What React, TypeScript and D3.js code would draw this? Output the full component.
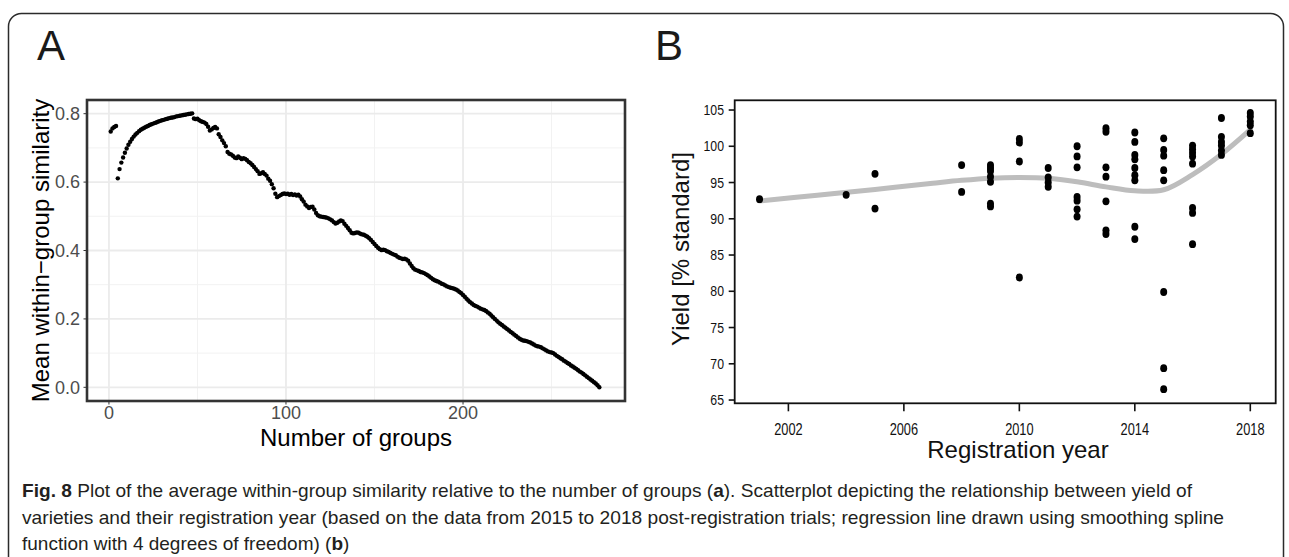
import React from 'react';
import * as d3 from 'd3';

// Panel A: mean within-group similarity for 1..277 groups
const similarity = [
  0.748, 0.757, 0.761, 0.764, 0.611, 0.638, 0.657, 0.672, 0.686, 0.698,
  0.709, 0.718, 0.726, 0.733, 0.739, 0.744, 0.749, 0.753, 0.756, 0.759,
  0.762, 0.764, 0.767, 0.769, 0.771, 0.773, 0.775, 0.777, 0.779, 0.781,
  0.782, 0.784, 0.785, 0.787, 0.788, 0.789, 0.790, 0.792, 0.793, 0.794,
  0.795, 0.796, 0.797, 0.798, 0.799, 0.800, 0.801, 0.786, 0.784, 0.785,
  0.781, 0.778, 0.776, 0.774, 0.770, 0.762, 0.751, 0.754, 0.758, 0.761,
  0.757, 0.740, 0.732, 0.722, 0.714, 0.705, 0.688, 0.683, 0.681, 0.677,
  0.672, 0.670, 0.675, 0.671, 0.667, 0.670, 0.668, 0.664, 0.659, 0.655,
  0.650, 0.644, 0.638, 0.632, 0.624, 0.626, 0.629, 0.624, 0.619, 0.610,
  0.604, 0.594, 0.582, 0.566, 0.556, 0.559, 0.562, 0.565, 0.567, 0.565,
  0.566, 0.563, 0.565, 0.562, 0.564, 0.561, 0.563, 0.558, 0.550, 0.543,
  0.534, 0.529, 0.524, 0.527, 0.528, 0.520, 0.510, 0.503, 0.500, 0.499,
  0.498, 0.497, 0.496, 0.494, 0.491, 0.488, 0.483, 0.479, 0.481, 0.485,
  0.488, 0.486, 0.478, 0.472, 0.466, 0.459, 0.452, 0.450, 0.451, 0.453,
  0.452, 0.449, 0.447, 0.446, 0.443, 0.440, 0.436, 0.431, 0.425, 0.419,
  0.413, 0.408, 0.404, 0.401, 0.402, 0.401, 0.398, 0.396, 0.393, 0.390,
  0.388, 0.386, 0.382, 0.379, 0.377, 0.375, 0.376, 0.374, 0.370, 0.362,
  0.355, 0.348, 0.344, 0.342, 0.340, 0.337, 0.336, 0.334, 0.331, 0.328,
  0.324, 0.320, 0.316, 0.313, 0.311, 0.309, 0.306, 0.303, 0.301, 0.298,
  0.295, 0.293, 0.291, 0.290, 0.288, 0.286, 0.283, 0.279, 0.275, 0.270,
  0.265, 0.259, 0.254, 0.249, 0.245, 0.241, 0.238, 0.236, 0.233, 0.230,
  0.228, 0.226, 0.223, 0.219, 0.215, 0.210, 0.205, 0.200, 0.195, 0.190,
  0.186, 0.182, 0.178, 0.174, 0.170, 0.166, 0.162, 0.158, 0.154, 0.150,
  0.146, 0.142, 0.139, 0.137, 0.136, 0.135, 0.133, 0.131, 0.128, 0.125,
  0.122, 0.120, 0.119, 0.117, 0.114, 0.111, 0.108, 0.105, 0.103, 0.102,
  0.100, 0.096, 0.092, 0.089, 0.085, 0.082, 0.078, 0.075, 0.071, 0.068,
  0.064, 0.061, 0.057, 0.054, 0.050, 0.046, 0.043, 0.039, 0.035, 0.031,
  0.027, 0.023, 0.019, 0.015, 0.011, 0.006, 0.000,
];
const groups = similarity.map((_, i) => i + 1);
const groupTicks = [0, 100, 200];
const groupMinor = [50, 150, 250];
const simTicks = [0, 0.2, 0.4, 0.6, 0.8];
const simMinor = [0.1, 0.3, 0.5, 0.7];

// Panel B: yield vs registration year
const regYear = [
  2001, 2004, 2005, 2005, 2008, 2008,
  2009, 2009, 2009, 2009, 2009, 2009, 2009,
  2010, 2010, 2010, 2010,
  2011, 2011, 2011, 2011,
  2012, 2012, 2012, 2012, 2012, 2012, 2012,
  2013, 2013, 2013, 2013, 2013, 2013, 2013,
  2014, 2014, 2014, 2014, 2014, 2014, 2014, 2014, 2014,
  2015, 2015, 2015, 2015, 2015, 2015, 2015, 2015,
  2016, 2016, 2016, 2016, 2016, 2016, 2016, 2016,
  2017, 2017, 2017, 2017, 2017, 2017,
  2018, 2018, 2018, 2018, 2018,
];
const yieldPct = [
  92.7, 93.3, 96.2, 91.4, 97.4, 93.7,
  97.4, 97.0, 96.6, 95.8, 95.1, 92.1, 91.7,
  101.0, 100.5, 97.9, 81.9,
  97.0, 95.7, 95.0, 94.4,
  100.0, 98.6, 97.1, 93.0, 92.5, 91.3, 90.3,
  102.5, 102.0, 97.1, 95.8, 92.4, 88.4, 87.9,
  101.9, 100.6, 98.8, 98.2, 97.0, 96.0, 95.3, 88.9, 87.2,
  101.1, 99.5, 98.7, 96.7, 95.3, 79.9, 69.4, 66.5,
  100.1, 99.6, 99.1, 98.6, 97.6, 91.5, 90.8, 86.5,
  103.9, 101.3, 100.6, 100.1, 99.4, 98.8,
  104.6, 104.1, 103.4, 102.9, 101.8,
];
const splineYear = [2001, 2003, 2005, 2007, 2008, 2009, 2010, 2011, 2012, 2013, 2014, 2015, 2016, 2017, 2018];
const splineYield = [92.45, 93.25, 94.05, 94.9, 95.3, 95.6, 95.7, 95.6, 95.1, 94.4, 93.85, 94.0, 96.1, 98.9, 102.3];
const yearTicks = [2002, 2006, 2010, 2014, 2018];
const yieldTicks = [65, 70, 75, 80, 85, 90, 95, 100, 105];

const W = 1289;
const H = 557;

const narrow = "'Liberation Sans Narrow', 'Arial Narrow', 'Liberation Sans', Arial, sans-serif";

export default function App() {
  // panel A scales
  const xA = d3.scaleLinear().domain([-12.4, 291.5]).range([87, 625]);
  const yA = d3.scaleLinear().domain([-0.04, 0.84]).range([401, 100]);
  // panel B scales
  const xB = d3.scaleLinear().domain([2000.14, 2018.88]).range([734.7, 1275.7]);
  const yB = d3.scaleLinear().domain([64.55, 106.34]).range([403.3, 100.3]);

  const spline = d3.line<number>()
    .x((_, i) => xB(splineYear[i]))
    .y(d => yB(d))
    .curve(d3.curveCatmullRom.alpha(0.5));

  const [ax0, ax1] = xA.range();
  const [ay0, ay1] = yA.range();
  const [bx0, bx1] = xB.range();
  const [by0, by1] = yB.range();

  return (
    <svg width={W} height={H} style={{ position: 'absolute', left: 0, top: 0, background: '#fff' }}
      fontFamily="'Liberation Sans', Arial, sans-serif">
      {/* outer frame */}
      <rect x={8.5} y={13.5} width={1275} height={620} rx={13} fill="none" stroke="#2b2b2b" strokeWidth={1.5} />

      {/* ---------- Panel A ---------- */}
      <text x={37} y={60} fontSize={42} fill="#1a1a1a">A</text>
      <g>
        {groupMinor.map(t => (
          <line key={'gm' + t} x1={xA(t)} x2={xA(t)} y1={ay1} y2={ay0} stroke="#f2f2f2" strokeWidth={1} />
        ))}
        {simMinor.map(t => (
          <line key={'sm' + t} x1={ax0} x2={ax1} y1={yA(t)} y2={yA(t)} stroke="#f2f2f2" strokeWidth={1} />
        ))}
        {groupTicks.map(t => (
          <line key={'g' + t} x1={xA(t)} x2={xA(t)} y1={ay1} y2={ay0} stroke="#ebebeb" strokeWidth={1.8} />
        ))}
        {simTicks.map(t => (
          <line key={'s' + t} x1={ax0} x2={ax1} y1={yA(t)} y2={yA(t)} stroke="#ebebeb" strokeWidth={1.8} />
        ))}
        {groups.map((g, i) => (
          <circle key={'p' + g} cx={xA(g)} cy={yA(similarity[i])} r={2.2} fill="#000" />
        ))}
        <rect x={ax0} y={ay1} width={ax1 - ax0} height={ay0 - ay1} fill="none" stroke="#333" strokeWidth={2.6} />
        {groupTicks.map(t => (
          <g key={'gt' + t}>
            <line x1={xA(t)} x2={xA(t)} y1={ay0} y2={ay0 + 3.5} stroke="#333" strokeWidth={1} />
            <text x={xA(t)} y={419} textAnchor="middle" fontSize={18} fill="#4d4d4d">{t}</text>
          </g>
        ))}
        {simTicks.map(t => (
          <g key={'st' + t}>
            <line x1={ax0 - 3.5} x2={ax0} y1={yA(t)} y2={yA(t)} stroke="#333" strokeWidth={1} />
            <text x={80} y={yA(t) + 6.4} textAnchor="end" fontSize={18} fill="#4d4d4d">{t.toFixed(1)}</text>
          </g>
        ))}
        <text x={(ax0 + ax1) / 2} y={446} textAnchor="middle" fontSize={24} fill="#000">Number of groups</text>
        <text transform={`translate(49,${(ay0 + ay1) / 2}) rotate(-90)`} textAnchor="middle" fontSize={24} fill="#000">
          Mean within−group similarity
        </text>
      </g>

      {/* ---------- Panel B ---------- */}
      <text x={655} y={60} fontSize={42} fill="#1a1a1a">B</text>
      <g>
        <path d={spline(splineYield) ?? ''} fill="none" stroke="#bdbdbd" strokeWidth={5} strokeLinecap="round" />
        {regYear.map((yr, i) => (
          <ellipse key={'b' + i} cx={xB(yr)} cy={yB(yieldPct[i])} rx={3.5} ry={3.9} fill="#000" />
        ))}
        <rect x={bx0} y={by1} width={bx1 - bx0} height={by0 - by1} fill="none" stroke="#111" strokeWidth={1.8} />
        {yearTicks.map(t => (
          <g key={'yt' + t}>
            <line x1={xB(t)} x2={xB(t)} y1={by0} y2={by0 + 8} stroke="#111" strokeWidth={1.6} />
            <text transform={`translate(${xB(t)},435) scale(0.8,1)`} textAnchor="middle" fontSize={16} fontFamily={narrow} fill="#111">{t}</text>
          </g>
        ))}
        {yieldTicks.map(t => (
          <g key={'yy' + t}>
            <line x1={bx0 - 6} x2={bx0} y1={yB(t)} y2={yB(t)} stroke="#111" strokeWidth={1.6} />
            <text transform={`translate(724,${yB(t) + 5.2}) scale(0.82,1)`} textAnchor="end" fontSize={15} fontFamily={narrow} fill="#111">{t}</text>
          </g>
        ))}
        <text x={1018} y={458} textAnchor="middle" fontSize={24} fill="#111">Registration year</text>
        <text transform={`translate(689,249) rotate(-90)`} textAnchor="middle" fontSize={24} fill="#111">
          Yield [% standard]
        </text>
      </g>

      {/* ---------- Caption ---------- */}
      <g fontFamily={narrow} fontSize={19} fill="#231f20">
        <text x={22} y={497} textLength={1170} lengthAdjust="spacingAndGlyphs">
          <tspan fontWeight="bold">Fig. 8</tspan> Plot of the average within-group similarity relative to the number of groups (<tspan fontWeight="bold">a</tspan>). Scatterplot depicting the relationship between yield of
        </text>
        <text x={22} y={523.5} textLength={1202} lengthAdjust="spacingAndGlyphs">
          varieties and their registration year (based on the data from 2015 to 2018 post-registration trials; regression line drawn using smoothing spline
        </text>
        <text x={22} y={550}>
          function with 4 degrees of freedom) (<tspan fontWeight="bold">b</tspan>)
        </text>
      </g>
    </svg>
  );
}
